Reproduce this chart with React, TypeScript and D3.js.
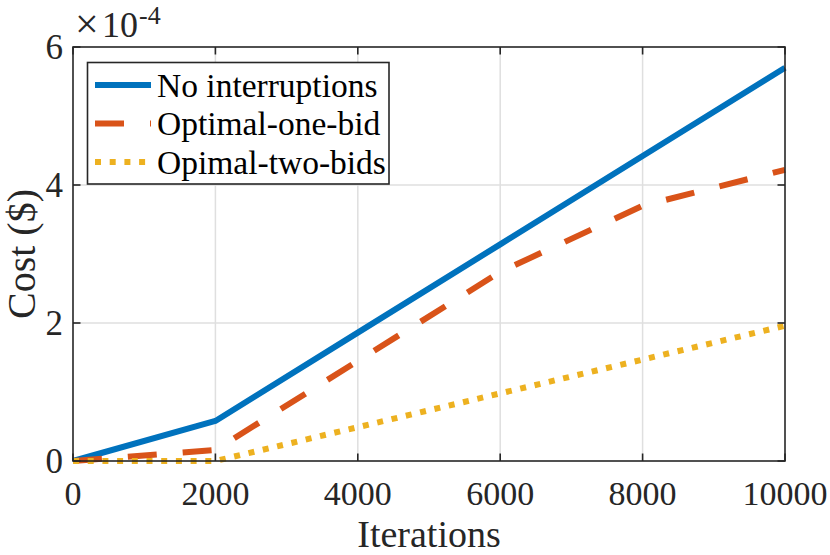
import { useEffect, useRef } from "react";
import * as d3 from "d3";

const iterations = [0, 2000, 4000, 6000, 8000, 10000];
const noInterruptions = [0, 0.58e-4, 1.86e-4, 3.14e-4, 4.42e-4, 5.7e-4];
const optimalOneBid = [0, 0.16e-4, 1.45e-4, 2.74e-4, 3.7e-4, 4.22e-4];
const optimalTwoBids = [0, 0, 0.49e-4, 0.98e-4, 1.47e-4, 1.96e-4];
const seriesNames = ["No interruptions", "Optimal-one-bid", "Opimal-two-bids"];
const xTicks = [0, 2000, 4000, 6000, 8000, 10000];
const yTicks = [0, 2e-4, 4e-4, 6e-4];

const colors = ["#0072BD", "#D95319", "#EDB120"];
const dashes = ["none", "29,26", "6,8.7"];
const font = "'Liberation Serif', 'Times New Roman', serif";
const axisColor = "#262626";

const App = () => {
  const ref = useRef<SVGSVGElement | null>(null);

  useEffect(() => {
    const width = 830;
    const height = 555;
    const margin = { top: 47, right: 45, bottom: 94, left: 73 };

    const svg = d3.select(ref.current);
    svg.selectAll("*").remove();

    const x = d3
      .scaleLinear()
      .domain([0, 10000])
      .range([margin.left, width - margin.right]);
    const y = d3
      .scaleLinear()
      .domain([0, 6e-4])
      .range([height - margin.bottom, margin.top]);

    const [x0, x1] = x.range();
    const [y0, y1] = y.range();

    // grid
    const grid = svg.append("g").attr("stroke", "#dfdfdf").attr("stroke-width", 1.5);
    xTicks.slice(1, -1).forEach((t) => {
      grid.append("line").attr("x1", x(t)).attr("x2", x(t)).attr("y1", y0).attr("y2", y1);
    });
    yTicks.slice(1, -1).forEach((t) => {
      grid.append("line").attr("x1", x0).attr("x2", x1).attr("y1", y(t)).attr("y2", y(t));
    });

    // series
    const allSeries = [noInterruptions, optimalOneBid, optimalTwoBids];
    const line = d3
      .line<[number, number]>()
      .x((d) => x(d[0]))
      .y((d) => y(d[1]));
    allSeries.forEach((vals, i) => {
      svg
        .append("path")
        .datum(iterations.map((it, j) => [it, vals[j]] as [number, number]))
        .attr("fill", "none")
        .attr("stroke", colors[i])
        .attr("stroke-width", 6)
        .attr("stroke-dasharray", dashes[i])
        .attr("stroke-linejoin", "round")
        .attr("d", line);
    });

    // axes box and ticks
    const ax = svg.append("g").attr("stroke", axisColor).attr("stroke-width", 1.6);
    ax.append("rect")
      .attr("x", x0)
      .attr("y", y1)
      .attr("width", x1 - x0)
      .attr("height", y0 - y1)
      .attr("fill", "none");
    const tl = 7.5;
    xTicks.forEach((t) => {
      ax.append("line").attr("x1", x(t)).attr("x2", x(t)).attr("y1", y0).attr("y2", y0 - tl);
      ax.append("line").attr("x1", x(t)).attr("x2", x(t)).attr("y1", y1).attr("y2", y1 + tl);
    });
    yTicks.forEach((t) => {
      ax.append("line").attr("x1", x0).attr("x2", x0 + tl).attr("y1", y(t)).attr("y2", y(t));
      ax.append("line").attr("x1", x1).attr("x2", x1 - tl).attr("y1", y(t)).attr("y2", y(t));
    });

    // tick labels
    const labels = svg.append("g").attr("font-family", font).attr("fill", "#262626");
    xTicks.forEach((t) => {
      labels
        .append("text")
        .attr("x", x(t))
        .attr("y", 505)
        .attr("text-anchor", "middle")
        .attr("font-size", 34)
        .text(String(t));
    });
    yTicks.forEach((t) => {
      labels
        .append("text")
        .attr("x", 63)
        .attr("y", y(t) + 12)
        .attr("text-anchor", "end")
        .attr("font-size", 35)
        .text(String(Math.round(t * 1e4)));
    });

    // exponent
    labels.append("text").attr("x", 75).attr("y", 38).attr("font-size", 42).text("\u00d7");
    labels.append("text").attr("x", 102).attr("y", 37).attr("font-size", 36).text("10");
    labels.append("text").attr("x", 139).attr("y", 24).attr("font-size", 26).text("-4");

    // axis titles
    labels
      .append("text")
      .attr("x", (x0 + x1) / 2)
      .attr("y", 546.5)
      .attr("text-anchor", "middle")
      .attr("font-size", 38)
      .text("Iterations");
    labels
      .append("text")
      .attr("transform", `translate(35,${(y0 + y1) / 2}) rotate(-90)`)
      .attr("text-anchor", "middle")
      .attr("font-size", 40)
      .text("Cost ($)");

    // legend
    const lg = svg.append("g");
    lg.append("rect")
      .attr("x", 87.5)
      .attr("y", 62.5)
      .attr("width", 301.5)
      .attr("height", 121.5)
      .attr("fill", "white")
      .attr("stroke", axisColor)
      .attr("stroke-width", 1.6);
    seriesNames.forEach((name, i) => {
      const cy = 85 + i * 38.5;
      lg.append("line")
        .attr("x1", 95)
        .attr("x2", 151)
        .attr("y1", cy)
        .attr("y2", cy)
        .attr("stroke", colors[i])
        .attr("stroke-width", 6)
        .attr("stroke-dasharray", dashes[i]);
      lg.append("text")
        .attr("x", 157)
        .attr("y", cy + 11.5)
        .attr("font-family", font)
        .attr("font-size", 33.5)
        .attr("fill", "#000")
        .text(name);
    });
  }, []);

  return (
    <svg
      ref={ref}
      width={830}
      height={555}
      style={{ position: "absolute", left: 0, top: 0, background: "white" }}
    ></svg>
  );
};

export default App;
